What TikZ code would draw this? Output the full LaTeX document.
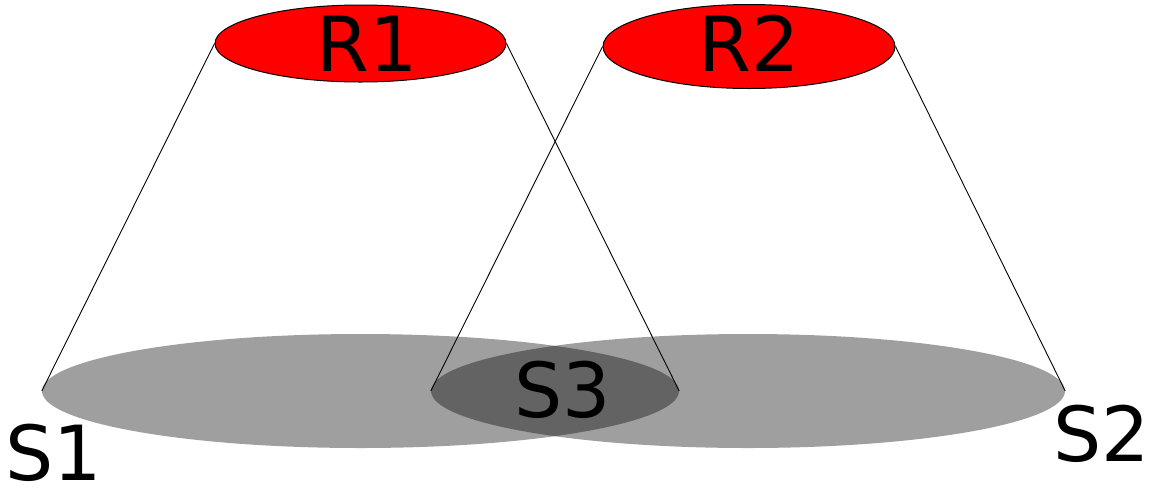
\documentclass[tikz,border=0pt]{standalone}
\usepackage{fontspec}
\setmainfont{DejaVu Sans}
\usetikzlibrary{shapes.geometric}
\begin{document}
\begin{tikzpicture}[x=1pt,y=-1pt,
  redell/.style={ellipse,draw=black,line width=1pt,fill=red,inner sep=0pt},
  grayell/.style={ellipse,fill=black,fill opacity=0.375,inner sep=0pt,draw=none},
  cone/.style={draw=black,line width=0.9pt},
  lbl/.style={anchor=base,inner sep=0pt,font=\fontsize{76}{80}\selectfont}]
\useasboundingbox (0,0) rectangle (1153,491);
\node[grayell,minimum width=637pt,minimum height=114pt] (S1) at (360.5,391) {};
\node[grayell,minimum width=634pt,minimum height=114pt] (S2) at (748,391) {};
\node[redell,minimum width=291pt,minimum height=77pt] (R1) at (360.5,43.5) {};
\node[redell,minimum width=292pt,minimum height=84pt] (R2) at (749,46.5) {};
\draw[cone] (R1.west) -- (S1.west);
\draw[cone] (R1.east) -- (S1.east);
\draw[cone] (R2.west) -- (S2.west);
\draw[cone] (R2.east) -- (S2.east);
\node[lbl] (tR1) at (367.5,71.5) {R1};
\node[lbl] (tR2) at (749,71.5) {R2};
\node[lbl] (tS3) at (563,417.5) {S3};
\node[lbl] (tS1) at (53.5,480) {S1};
\node[lbl] (tS2) at (1101.5,461) {S2};
\end{tikzpicture}
\end{document}
